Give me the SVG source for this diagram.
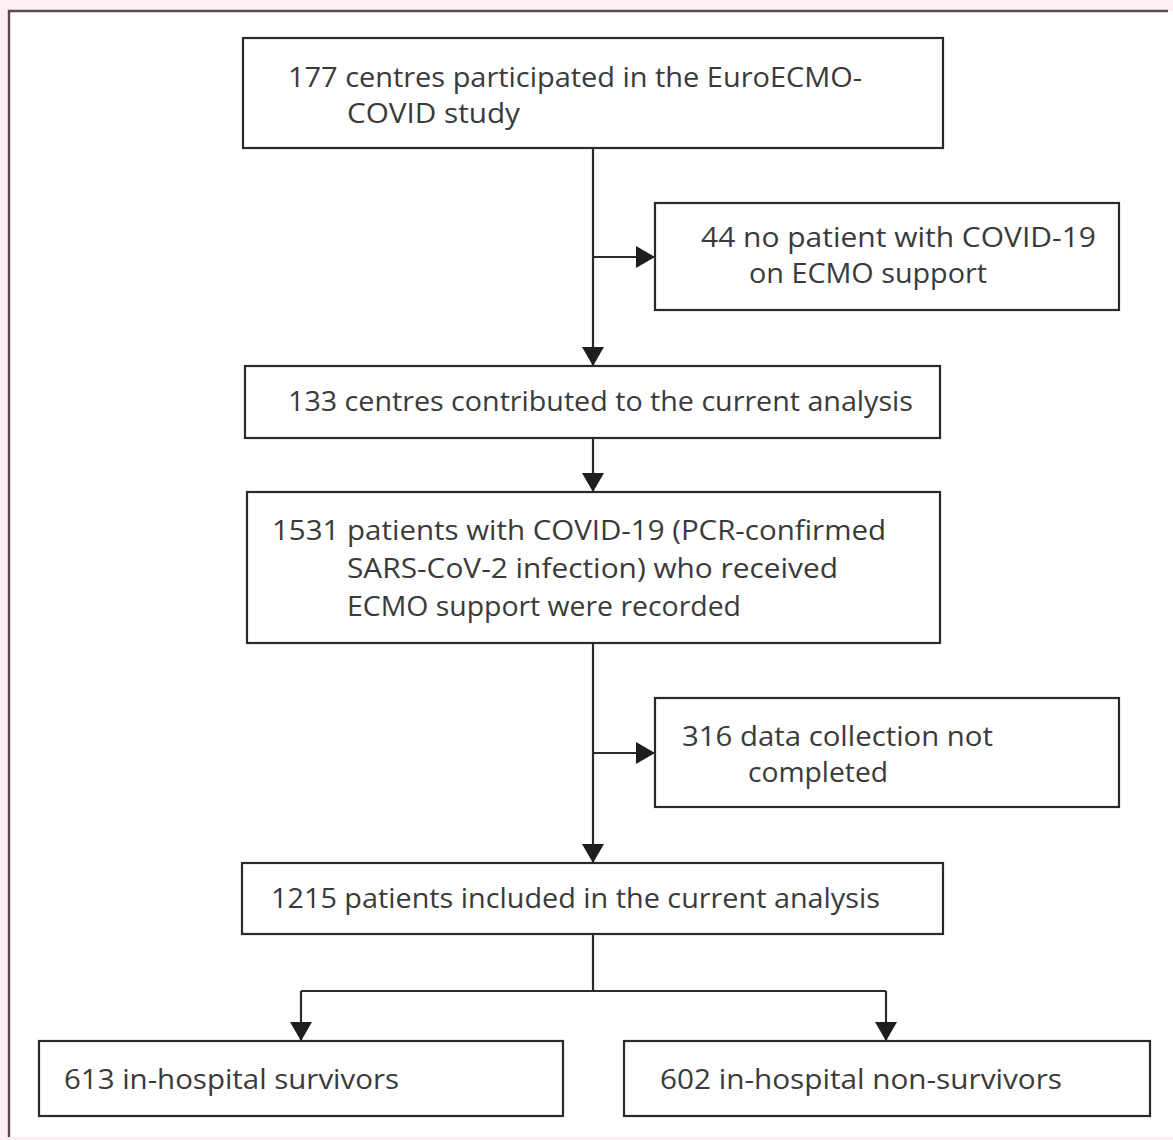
<svg xmlns="http://www.w3.org/2000/svg" width="1173" height="1140" viewBox="0 0 1173 1140">
<defs>
<marker id="arr" markerUnits="userSpaceOnUse" markerWidth="20" markerHeight="24" refX="19" refY="11" orient="auto">
<path d="M0,0 L19,11 L0,22 z" fill="#1e1e1e"/>
</marker>
<style>
.box{fill:#ffffff;stroke:#2a2a2a;stroke-width:2.2}
.t{font-family:"Open Sans","Noto Sans","Liberation Sans",sans-serif;font-size:28px;fill:#3a3a3a}
.c{fill:none;stroke:#2a2a2a;stroke-width:2.2}
</style>
</defs>
<rect x="0" y="0" width="1173" height="1140" fill="#fcf0f4"/>
<rect x="9" y="11" width="1164" height="1126" fill="#ffffff"/>
<path d="M9,1137 L9,11 L1168,11" fill="none" stroke="#5a4a55" stroke-width="2.4"/>
<g id="connectors">
<path class="c" d="M593,148 L593,366" marker-end="url(#arr)"/>
<path class="c" d="M593,257 L655,257" marker-end="url(#arr)"/>
<path class="c" d="M593,438 L593,492" marker-end="url(#arr)"/>
<path class="c" d="M593,643 L593,863" marker-end="url(#arr)"/>
<path class="c" d="M593,753 L655,753" marker-end="url(#arr)"/>
<path class="c" d="M593,934 L593,991 M301,991 L886,991"/>
<path class="c" d="M301,991 L301,1041" marker-end="url(#arr)"/>
<path class="c" d="M886,991 L886,1041" marker-end="url(#arr)"/>
</g>
<g id="n1">
<rect class="box" x="243" y="38" width="700" height="110"/>
<text class="t" x="288" y="87" textLength="574" lengthAdjust="spacingAndGlyphs">177 centres participated in the EuroECMO-</text>
<text class="t" x="347" y="123" textLength="173" lengthAdjust="spacingAndGlyphs">COVID study</text>
</g>
<g id="n2">
<rect class="box" x="655" y="203" width="464" height="107"/>
<text class="t" x="701" y="247" textLength="395" lengthAdjust="spacingAndGlyphs">44 no patient with COVID-19</text>
<text class="t" x="749" y="283" textLength="238" lengthAdjust="spacingAndGlyphs">on ECMO support</text>
</g>
<g id="n3">
<rect class="box" x="245" y="366" width="695" height="72"/>
<text class="t" x="288" y="411" textLength="625" lengthAdjust="spacingAndGlyphs">133 centres contributed to the current analysis</text>
</g>
<g id="n4">
<rect class="box" x="247" y="492" width="693" height="151"/>
<text class="t" x="272" y="540" textLength="614" lengthAdjust="spacingAndGlyphs">1531 patients with COVID-19 (PCR-confirmed</text>
<text class="t" x="347" y="578" textLength="491" lengthAdjust="spacingAndGlyphs">SARS-CoV-2 infection) who received</text>
<text class="t" x="347" y="616" textLength="394" lengthAdjust="spacingAndGlyphs">ECMO support were recorded</text>
</g>
<g id="n5">
<rect class="box" x="655" y="698" width="464" height="109"/>
<text class="t" x="682" y="746" textLength="311" lengthAdjust="spacingAndGlyphs">316 data collection not</text>
<text class="t" x="748" y="782" textLength="140" lengthAdjust="spacingAndGlyphs">completed</text>
</g>
<g id="n6">
<rect class="box" x="242" y="863" width="701" height="71"/>
<text class="t" x="271" y="908" textLength="609" lengthAdjust="spacingAndGlyphs">1215 patients included in the current analysis</text>
</g>
<g id="n7">
<rect class="box" x="39" y="1041" width="524" height="75"/>
<text class="t" x="64" y="1089" textLength="335" lengthAdjust="spacingAndGlyphs">613 in-hospital survivors</text>
</g>
<g id="n8">
<rect class="box" x="624" y="1041" width="526" height="75"/>
<text class="t" x="660" y="1089" textLength="402" lengthAdjust="spacingAndGlyphs">602 in-hospital non-survivors</text>
</g>
</svg>
